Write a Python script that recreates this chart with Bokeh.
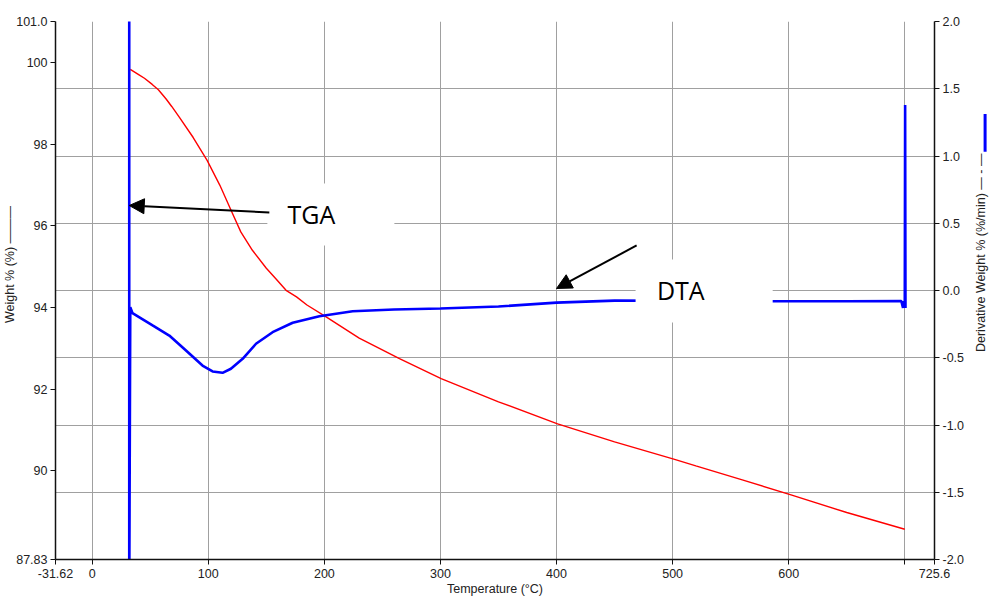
from math import pi
from bokeh.plotting import figure
from bokeh.layouts import row
from bokeh.models import Range1d, LinearAxis, FixedTicker, Arrow, NormalHead
from bokeh.core.properties import value
from bokeh.embed import file_html
from bokeh.resources import INLINE

# ---------------- data ----------------
tga_temp = [32.8, 40, 45, 51.7, 57, 63.5, 68.5, 75, 87, 99, 110, 119.6, 128, 138, 150,
            158, 167, 176, 185, 201.5, 230, 264.7, 300.6, 350, 400.9, 450, 501.7, 520,
            560, 602, 650, 700]
tga_wt = [99.83, 99.70, 99.61, 99.46, 99.33, 99.11, 98.92, 98.66, 98.16, 97.60, 96.99,
          96.38, 95.85, 95.40, 94.96, 94.71, 94.42, 94.26, 94.06, 93.77, 93.25, 92.75,
          92.26, 91.69, 91.15, 90.71, 90.28, 90.12, 89.78, 89.41, 88.98, 88.57]

dta_temp = [31.9, 31.9, 32.8, 34.7, 52, 66.4, 80.8, 95, 103.7, 112.3, 119.5, 129.6,
            141.1, 155.4, 172.7, 195.7, 224.4, 260, 300, 350, 400, 450, 500, 550, 600,
            650, 697, 698.5, 699, 700, 700.3, 700.6]
dta_val = [2.3, -2.3, -0.124, -0.169, -0.26, -0.335, -0.446, -0.558, -0.602, -0.612,
           -0.582, -0.508, -0.396, -0.31, -0.24, -0.191, -0.154, -0.141, -0.134, -0.119,
           -0.09, -0.075, -0.076, -0.08, -0.08, -0.08, -0.078, -0.13, -0.08, -0.09,
           1.38, -0.13]

x_ticks = [-31.62, 0, 100, 200, 300, 400, 500, 600, 700, 725.6]
x_tick_labels = {-31.62: "-31.62", 0: "0", 100: "100", 200: "200", 300: "300",
                 400: "400", 500: "500", 600: "600", 700: "", 725.6: "725.6"}
left_ticks = [87.83, 90, 92, 94, 96, 98, 100, 101.0]
left_tick_labels = {87.83: "87.83", 90: "90", 92: "92", 94: "94", 96: "96",
                    98: "98", 100: "100", 101: "101.0"}
right_ticks = [-2.0, -1.5, -1.0, -0.5, 0.0, 0.5, 1.0, 1.5, 2.0]
right_tick_labels = {-2: "-2.0", -1.5: "-1.5", -1: "-1.0", -0.5: "-0.5", 0: "0.0",
                     0.5: "0.5", 1: "1.0", 1.5: "1.5", 2: "2.0"}

FONT = "Liberation Sans"
FS = "12.5px"
TXT = "#222222"
GRID = "#a0a0a0"
NB = "\u00a0"

TOP, FRAME_H, BOTTOM = 21, 538, 40

p = figure(frame_width=879, frame_height=FRAME_H,
           x_range=Range1d(-31.62, 725.6), y_range=Range1d(87.83, 101.0),
           output_backend="svg", toolbar_location=None,
           min_border=0, min_border_left=49, min_border_top=TOP,
           min_border_right=30, min_border_bottom=BOTTOM)
p.outline_line_color = None
p.background_fill_color = "white"
p.extra_y_ranges = {"dta": Range1d(-2.0, 2.0)}

def style_axis(ax):
    ax.major_label_text_font = FONT
    ax.major_label_text_font_size = FS
    ax.major_label_text_color = TXT
    ax.axis_label_text_font = FONT
    ax.axis_label_text_font_size = FS
    ax.axis_label_text_font_style = "normal"
    ax.axis_label_text_color = TXT
    ax.axis_label_standoff = 0
    ax.axis_line_color = "#111111"
    ax.axis_line_width = 1.5
    ax.major_tick_line_color = "#111111"
    ax.major_tick_out = 5
    ax.major_tick_in = 0
    ax.minor_tick_line_color = None
    ax.major_label_standoff = 3

# bottom axis
xa = p.xaxis[0]
xa.ticker = FixedTicker(ticks=x_ticks)
xa.major_label_overrides = x_tick_labels
xa.axis_label = "Temperature (°C)"
style_axis(xa)
xa.major_label_standoff = 4
xa.axis_label_standoff = 1

# left axis
ya = p.yaxis[0]
ya.ticker = FixedTicker(ticks=left_ticks)
ya.major_label_overrides = left_tick_labels
ya.axis_label = NB * 16 + "Weight % (%)  ———"
style_axis(ya)
ya.axis_label_standoff = -4

# right axis (ticks only; its title is drawn in the narrow strip figure)
ra = LinearAxis(y_range_name="dta", ticker=FixedTicker(ticks=right_ticks),
                major_label_overrides=right_tick_labels)
style_axis(ra)
p.add_layout(ra, "right")

# grids
p.xgrid.ticker = FixedTicker(ticks=x_ticks)
p.xgrid.grid_line_color = GRID
p.xgrid.grid_line_width = 1
p.ygrid.ticker = FixedTicker(ticks=right_ticks)
p.ygrid.y_range_name = "dta"
p.ygrid.grid_line_color = GRID
p.ygrid.grid_line_width = 1

# curves
p.line(tga_temp, tga_wt, line_color="#ff0000", line_width=1.4)
p.line(dta_temp, dta_val, line_color="#0000ff", line_width=2.6, y_range_name="dta")

# white label boxes (cover grid and curve as in the original)
p.quad(left=[150.9], right=[260.3], bottom=[0.335], top=[0.796],
       fill_color="white", line_color=None, y_range_name="dta")
p.quad(left=[468.1], right=[586.2], bottom=[-0.238], top=[0.23],
       fill_color="white", line_color=None, y_range_name="dta")

p.text(x=[188.8], y=[0.572], text=["TGA"], text_font=value("Open Sans"),
       text_font_size="25px", text_align="center", text_baseline="middle",
       text_color="black", y_range_name="dta")
p.text(x=[507.0], y=[0.007], text=["DTA"], text_font=value("Open Sans"),
       text_font_size="25px", text_align="center", text_baseline="middle",
       text_color="black", y_range_name="dta")

p.add_layout(Arrow(end=NormalHead(size=15, fill_color="black", line_color="black"),
                   x_start=152.6, y_start=0.58, x_end=31.9, y_end=0.632,
                   line_width=2, line_color="black", y_range_name="dta"))
p.add_layout(Arrow(end=NormalHead(size=15, fill_color="black", line_color="black"),
                   x_start=469.0, y_start=0.335, x_end=400.0, y_end=0.015,
                   line_width=2, line_color="black", y_range_name="dta"))

# narrow strip on the right: right-axis title (reads bottom-to-top) + blue swatch
px_per_unit = FRAME_H / 4.0
p2 = figure(width=22, height=TOP + FRAME_H + BOTTOM,
            x_range=Range1d(0, 1),
            y_range=Range1d(-2.0 - BOTTOM / px_per_unit, 2.0 + TOP / px_per_unit),
            output_backend="svg", toolbar_location=None, min_border=0,
            x_axis_type=None, y_axis_type=None)
p2.outline_line_color = None
p2.xgrid.visible = False
p2.ygrid.visible = False
p2.text(x=[0.62], y=[-0.58], text=["Derivative Weight % (%/min)  — - —"],
        angle=pi / 2, text_font=value(FONT), text_font_size=FS, text_color=TXT,
        text_align="left", text_baseline="middle")
p2.segment(x0=[0.8], y0=[1.078], x1=[0.8], y1=[1.39], line_color="#0000ff",
           line_width=3)

layout = row(p, p2, spacing=0)
open("out.html", "w").write(file_html(layout, INLINE))
